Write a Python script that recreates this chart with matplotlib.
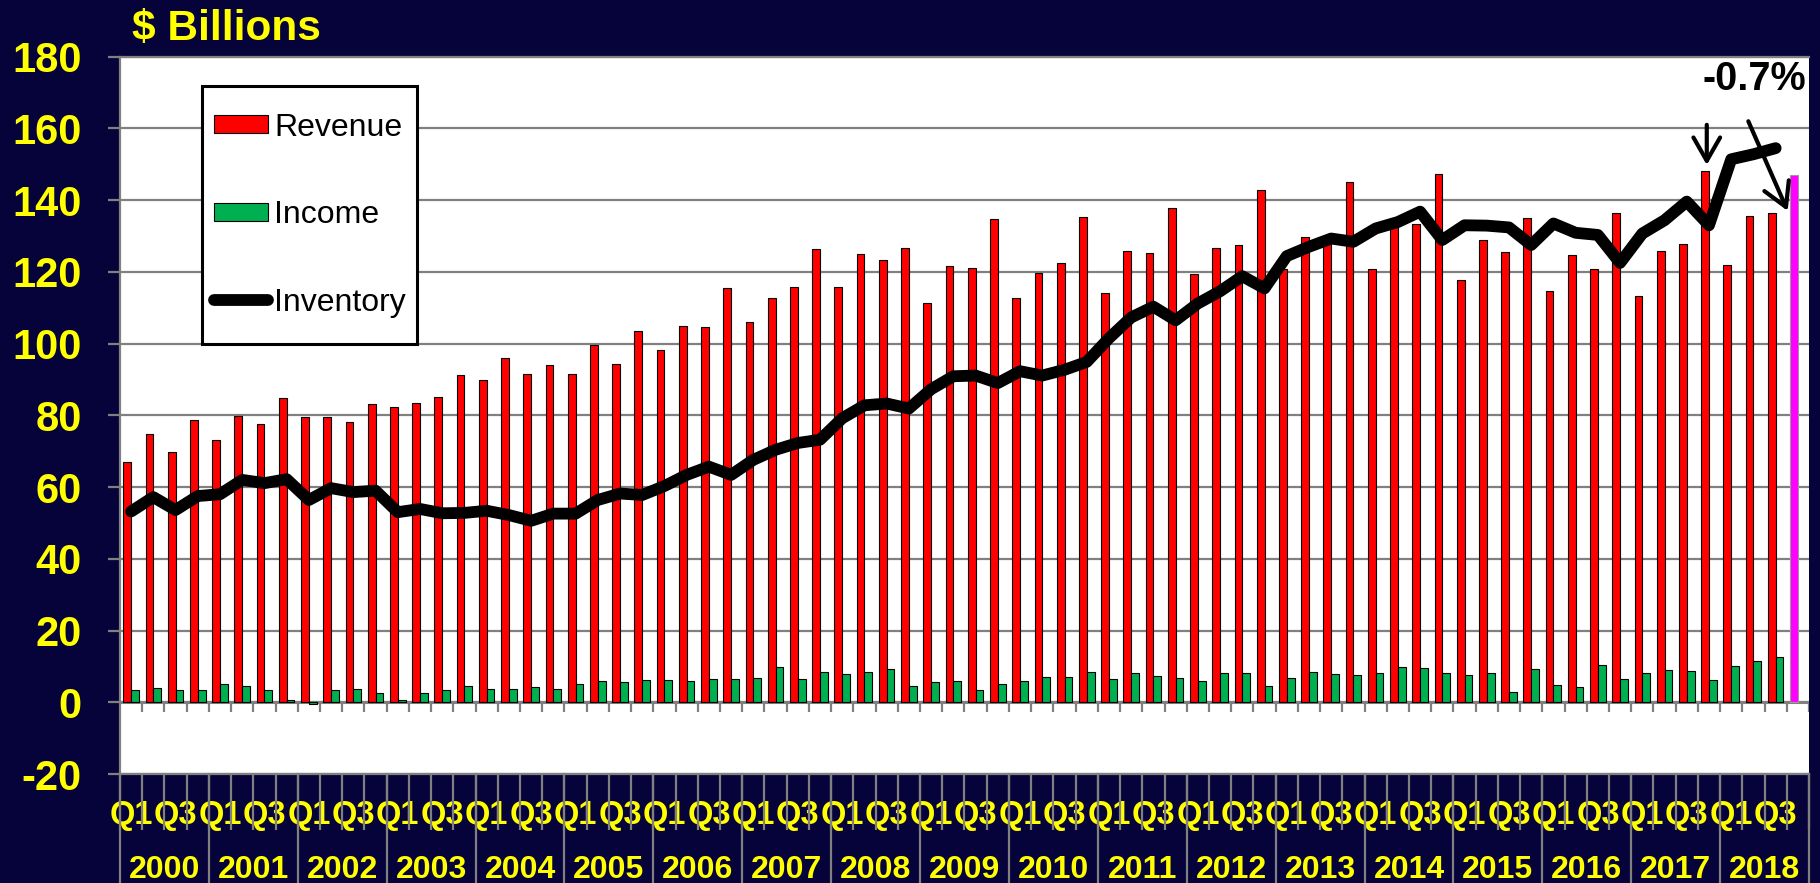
import numpy as np
import matplotlib
matplotlib.use("Agg")
import matplotlib.pyplot as plt
from matplotlib import transforms
from matplotlib.patches import Patch, Rectangle
from matplotlib.lines import Line2D
from matplotlib.ticker import FixedLocator

plt.rcParams['font.family'] = ['Liberation Sans', 'DejaVu Sans']
plt.rcParams['axes.unicode_minus'] = False

# ---------------- data ----------------
years = list(range(2000, 2019))
quarters = ["Q1", "Q2", "Q3", "Q4"]

revenue = [
    66.9, 74.8, 69.7, 78.6,      # 2000
    73.1, 79.7, 77.7, 84.8,      # 2001
    79.5, 79.5, 78.1, 83.1,      # 2002
    82.2, 83.4, 85.1, 91.3,      # 2003
    89.9, 96.0, 91.6, 94.1,      # 2004
    91.6, 99.6, 94.3, 103.6,     # 2005
    98.3, 104.8, 104.5, 115.5,   # 2006
    106.0, 112.8, 115.8, 126.4,  # 2007
    115.8, 125.1, 123.4, 126.7,  # 2008
    111.3, 121.6, 121.2, 134.8,  # 2009
    112.8, 119.8, 122.6, 135.2,  # 2010
    114.2, 125.9, 125.3, 137.8,  # 2011
    119.3, 126.7, 127.4, 142.8,  # 2012
    120.8, 129.8, 128.0, 145.0,  # 2013
    120.9, 132.5, 133.3, 147.2,  # 2014
    117.7, 128.9, 125.6, 134.9,  # 2015
    114.7, 124.7, 120.8, 136.3,  # 2016
    113.3, 125.8, 127.7, 148.2,  # 2017
    121.8, 135.6, 136.5,         # 2018 Q1-Q3
]
revenue_2018q4 = 147.0

income = [
    3.4, 4.1, 3.4, 3.4,
    5.1, 4.6, 3.3, 0.5,
    -0.6, 3.5, 3.6, 2.6,
    0.6, 2.6, 3.4, 4.6,
    3.7, 3.7, 4.3, 3.7,
    5.1, 5.9, 5.6, 6.1,
    6.1, 5.9, 6.6, 6.4,
    6.7, 9.7, 6.5, 8.4,
    8.0, 8.4, 9.4, 4.4,
    5.6, 6.0, 3.4, 5.2,
    6.0, 7.1, 7.1, 8.4,
    6.4, 8.3, 7.4, 6.7,
    5.9, 8.3, 8.1, 4.5,
    6.9, 8.4, 7.9, 7.7,
    8.1, 9.7, 9.5, 8.2,
    7.6, 8.2, 3.0, 9.4,
    4.9, 4.3, 10.5, 6.6,
    8.2, 9.0, 8.8, 6.2,
    10.1, 11.4, 12.5,
]

inventory = [
    53.2, 57.2, 53.6, 57.5,
    58.0, 62.0, 61.1, 62.2,
    56.4, 59.7, 58.6, 59.0,
    53.0, 53.9, 52.7, 52.8,
    53.4, 52.2, 50.6, 52.6,
    52.6, 56.4, 58.2, 57.8,
    60.3, 63.4, 65.7, 63.4,
    67.6, 70.4, 72.3, 73.2,
    79.2, 82.8, 83.3, 81.9,
    87.3, 90.9, 91.1, 89.0,
    92.3, 91.1, 92.7, 94.9,
    101.5, 107.3, 110.3, 106.5,
    111.2, 114.6, 118.8, 115.4,
    124.4, 127.0, 129.3, 128.4,
    132.1, 133.9, 136.8, 128.9,
    133.0, 132.9, 132.4, 127.5,
    133.5, 130.9, 130.3, 122.5,
    130.7, 134.4, 139.6, 133.0,
    151.4, 152.8, 154.5,
]

legend_labels = ["Revenue", "Income", "Inventory"]
y_ticks = list(range(-20, 181, 20))
change_label = "-0.7%"

# ---------------- style ----------------
NAVY = "#06033A"
YELLOW = "#FFFF00"
GRAY = "#808080"
RED = "#FF0000"
GREEN = "#00B050"
MAGENTA = "#FF00FF"

W, H = 1820, 883
fig = plt.figure(figsize=(W / 100, H / 100), dpi=100)
fig.patch.set_facecolor(NAVY)

ax_left, ax_right = 120 / W, 1809 / W
ax_bottom, ax_top = 1 - 774 / H, 1 - 56.7 / H
ax = fig.add_axes([ax_left, ax_bottom, ax_right - ax_left, ax_top - ax_bottom])
ax.set_facecolor("white")

n_cat = len(years) * 4
x = np.arange(len(revenue))
bw = 0.35

ax.bar(x - bw / 2, revenue, bw, color=RED, edgecolor="black", linewidth=0.8, zorder=3)
ax.bar(x + bw / 2, income, bw, color=GREEN, edgecolor="black", linewidth=0.8, zorder=3)
ax.bar([n_cat - 1 - bw / 2], [revenue_2018q4], bw, color=MAGENTA, edgecolor="#9a9a9a",
       linewidth=0.8, zorder=3)
ax.plot(x[:len(inventory)], inventory, color="black", linewidth=8.5,
        solid_joinstyle="round", solid_capstyle="round", zorder=4)

ax.set_xlim(-0.5, n_cat - 0.5)
ax.set_ylim(-20, 180)

# grid and axes
ax.set_yticks(y_ticks)
ax.yaxis.grid(True, color=GRAY, linewidth=1.6, zorder=0)
ax.set_axisbelow(True)
ax.axhline(0, color=GRAY, linewidth=2.2, zorder=2.5)
for s in ["left", "top", "bottom"]:
    ax.spines[s].set_color(GRAY)
    ax.spines[s].set_linewidth(1.6)
ax.spines["right"].set_visible(False)

ax.tick_params(axis="y", colors=GRAY, labelcolor=YELLOW, labelsize=30,
               length=8.6, width=1.6, pad=19)
for lbl in ax.get_yticklabels():
    lbl.set_fontweight("bold")

# category (quarter) labels
q_pos = [k for k in range(n_cat) if k % 4 in (0, 2) and k < len(revenue)]
q_lab = [quarters[k % 4] for k in q_pos]
ax.set_xticks(q_pos)
ax.set_xticklabels(q_lab)
ax.tick_params(axis="x", which="major", length=0, labelsize=23.5,
               labelcolor=YELLOW, pad=18.5)
for lbl in ax.get_xticklabels():
    lbl.set_fontweight("bold")

bounds = np.arange(-0.5, n_cat, 1)
ax.xaxis.set_minor_locator(FixedLocator(bounds))
ax.tick_params(axis="x", which="minor", length=40, width=1.6, color=GRAY,
               direction="out")

# small ticks on the zero line
ax.vlines(bounds[1:], -2.8, 0, color=GRAY, linewidth=1.6, zorder=2.5)

# year separators & labels
blend = transforms.blended_transform_factory(ax.transData, fig.transFigure)
for b in np.arange(-0.5, n_cat, 4):
    ax.add_line(Line2D([b, b], [0, ax_bottom], transform=blend, color=GRAY,
                       linewidth=1.6, clip_on=False, zorder=1))
for i, yr in enumerate(years):
    ax.text(i * 4 + 1.5, 1 - 878.5 / H, str(yr), transform=blend, ha="center",
            va="baseline", fontsize=23, fontweight="bold", color=YELLOW)

# title
fig.text(132 / W, 1 - 40 / H, "$ Billions", color=YELLOW, fontsize=30.5,
         fontweight="bold", va="baseline", ha="left")

# legend (frame drawn separately)
fig.patches.append(Rectangle((202 / W, 1 - 344 / H), 215 / W, 258 / H,
                             transform=fig.transFigure, facecolor="white",
                             edgecolor="black", linewidth=2.2, zorder=5))
handles = [
    Patch(facecolor=RED, edgecolor="black", linewidth=0.8),
    Patch(facecolor=GREEN, edgecolor="black", linewidth=0.8),
    Line2D([], [], color="black", linewidth=8.5, solid_capstyle="round"),
]
leg = fig.legend(handles, legend_labels, loc="center left",
                 bbox_to_anchor=(214 / W, 1 - 215 / H), bbox_transform=fig.transFigure,
                 frameon=False, prop={"size": 23}, handlelength=1.7, handleheight=0.5,
                 labelspacing=1.8, borderpad=0, handletextpad=0.18, borderaxespad=0)
leg.set_zorder(6)

# annotation arrows
arrow_kw = dict(arrowstyle="->,head_length=0.7,head_width=0.4", mutation_scale=24,
                lw=3.0, color="black", shrinkA=0, shrinkB=0)
k_prev = 71   # 2017 Q4
k_last = 74   # 2018 Q3
ax.annotate("", xy=(k_prev - 0.1, 149.8), xytext=(k_prev - 0.1, 161.0),
            arrowprops=arrow_kw, annotation_clip=False, zorder=6)
ax.annotate("", xy=(k_last + 0.54, 137.0), xytext=(k_last - 1.23, 162.0),
            arrowprops=arrow_kw, annotation_clip=False, zorder=6)
ax.text(73.06, 173.8, change_label, ha="center", va="center", fontsize=28.5,
        fontweight="bold", color="black", zorder=6)

fig.savefig("out.png", dpi=100, facecolor=NAVY)
